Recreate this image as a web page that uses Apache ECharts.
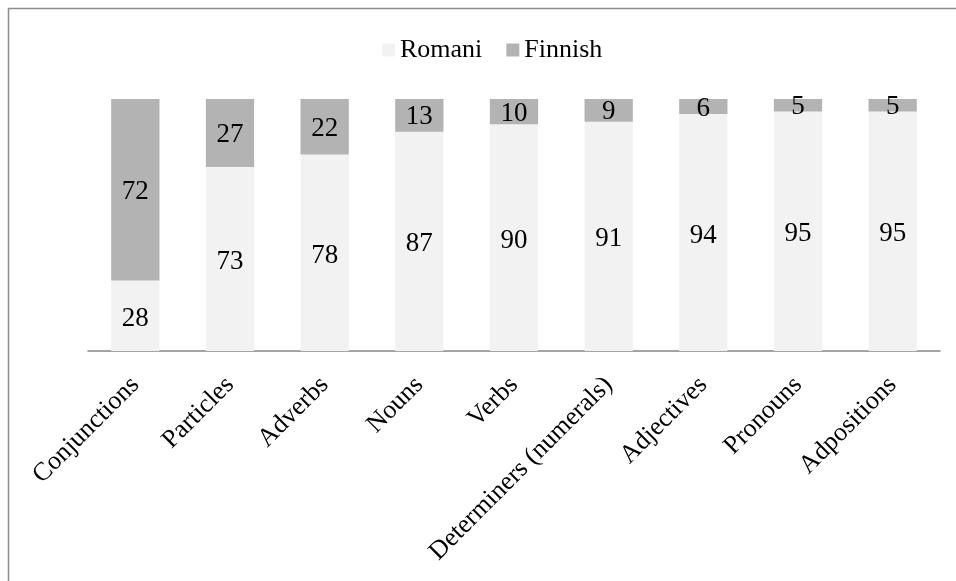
<!DOCTYPE html>
<html><head><meta charset="utf-8">
<script src="https://cdn.jsdelivr.net/npm/echarts@6/dist/echarts.min.js"></script>
<style>html,body{margin:0;padding:0;background:#fff}#c{width:956px;height:581px}</style>
</head><body><div id="c"></div>
<script>
const categories = ["Conjunctions","Particles","Adverbs","Nouns","Verbs","Determiners (numerals)","Adjectives","Pronouns","Adpositions"];
const romani = [28,73,78,87,90,91,94,95,95];
const finnish = [72,27,22,13,10,9,6,5,5];
const font = "'Liberation Serif','Times New Roman',serif";
const chart = echarts.init(document.getElementById('c'));
chart.setOption({
  animation:false,
  textStyle:{fontFamily:font},
  graphic:[{type:'rect',shape:{x:8.5,y:8.5,width:1000,height:1000},style:{fill:'none',stroke:'#8c8c8c',lineWidth:1.5},silent:true}],
  legend:{top:32,left:377,itemWidth:13,itemHeight:13,itemGap:24,icon:'rect',
    textStyle:{fontFamily:font,fontSize:26,color:'#000'},data:['Romani','Finnish']},
  grid:{left:88,right:16,top:99,bottom:230},
  xAxis:{type:'category',data:categories,
    axisLine:{lineStyle:{color:'#868686',width:1.5}},axisTick:{show:false},
    axisLabel:{rotate:45,interval:0,fontFamily:font,fontSize:26,color:'#000',margin:30}},
  yAxis:{type:'value',min:0,max:100,show:false,splitLine:{show:false}},
  series:[
    {name:'Romani',type:'bar',stack:'a',data:romani,barCategoryGap:'49%',
     itemStyle:{color:'#f2f2f2'},
     label:{show:true,position:'inside',offset:[0,3],fontFamily:font,fontSize:27,color:'#000'}},
    {name:'Finnish',type:'bar',stack:'a',data:finnish,
     itemStyle:{color:'#b3b3b3'},
     label:{show:true,position:'inside',offset:[0,2],fontFamily:font,fontSize:27,color:'#000'}}
  ]
});
</script></body></html>
